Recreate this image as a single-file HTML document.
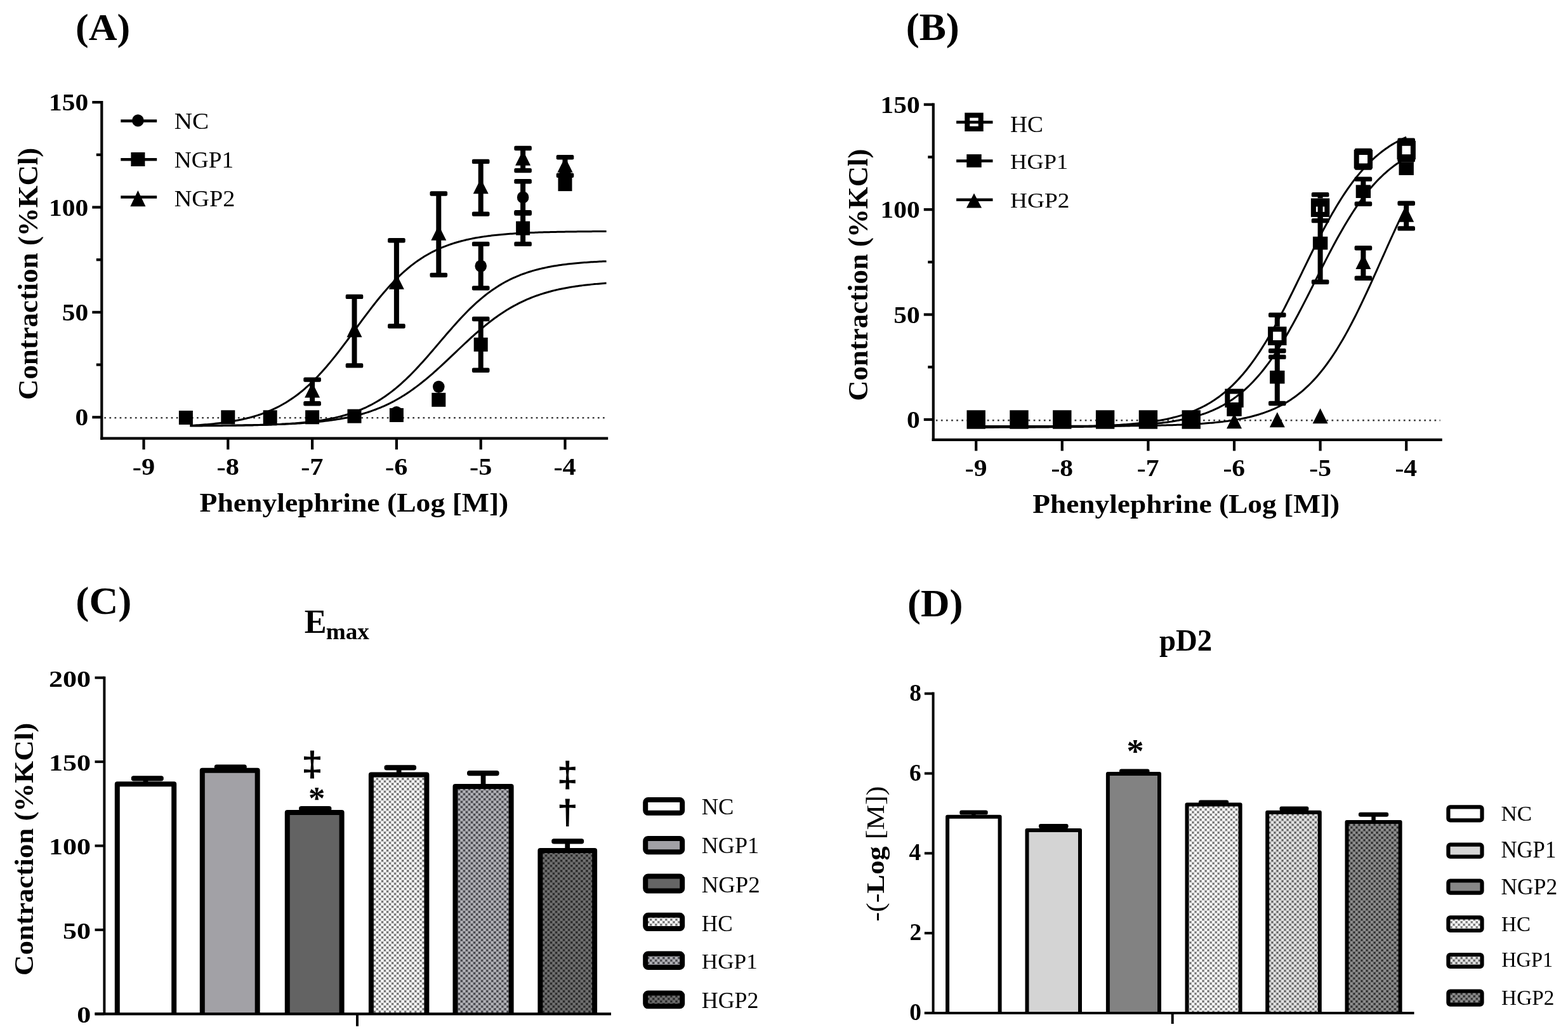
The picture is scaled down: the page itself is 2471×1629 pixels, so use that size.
<!DOCTYPE html><html><head><meta charset="utf-8"><style>html,body{margin:0;padding:0;background:#fff;overflow:hidden}svg{display:block}text{font-family:'Liberation Serif','Times New Roman',serif;fill:#000}</style></head><body>
<svg xmlns="http://www.w3.org/2000/svg" width="2471" height="1629" viewBox="0 0 2471 1629">
<defs><pattern id="pHC_C" width="8.06" height="8.06" patternUnits="userSpaceOnUse"><rect width="8.06" height="8.06" fill="#fff"/><rect x="4.03" y="0" width="4.03" height="4.03" fill="#a5a5a5"/><rect x="0" y="4.03" width="4.03" height="4.03" fill="#a5a5a5"/><rect x="5.03" y="1.0" width="2.0" height="2.0" fill="#505050"/><rect x="1.0" y="5.03" width="2.0" height="2.0" fill="#505050"/></pattern><pattern id="pHGP1_C" width="8.06" height="8.06" patternUnits="userSpaceOnUse"><rect width="8.06" height="8.06" fill="#b5b5ba"/><rect x="4.03" y="0" width="4.03" height="4.03" fill="#6a6a70"/><rect x="0" y="4.03" width="4.03" height="4.03" fill="#6a6a70"/><rect x="5.03" y="1.0" width="2.0" height="2.0" fill="#303035"/><rect x="1.0" y="5.03" width="2.0" height="2.0" fill="#303035"/></pattern><pattern id="pHGP2_C" width="8.06" height="8.06" patternUnits="userSpaceOnUse"><rect width="8.06" height="8.06" fill="#727272"/><rect x="4.03" y="0" width="4.03" height="4.03" fill="#444"/><rect x="0" y="4.03" width="4.03" height="4.03" fill="#444"/><rect x="5.03" y="1.0" width="2.0" height="2.0" fill="#181818"/><rect x="1.0" y="5.03" width="2.0" height="2.0" fill="#181818"/></pattern><pattern id="pHC_D" width="8.06" height="8.06" patternUnits="userSpaceOnUse"><rect width="8.06" height="8.06" fill="#fff"/><rect x="4.03" y="0" width="4.03" height="4.03" fill="#ababab"/><rect x="0" y="4.03" width="4.03" height="4.03" fill="#ababab"/><rect x="5.03" y="1.0" width="2.0" height="2.0" fill="#555"/><rect x="1.0" y="5.03" width="2.0" height="2.0" fill="#555"/></pattern><pattern id="pHGP1_D" width="8.06" height="8.06" patternUnits="userSpaceOnUse"><rect width="8.06" height="8.06" fill="#e6e6e6"/><rect x="4.03" y="0" width="4.03" height="4.03" fill="#999"/><rect x="0" y="4.03" width="4.03" height="4.03" fill="#999"/><rect x="5.03" y="1.0" width="2.0" height="2.0" fill="#444"/><rect x="1.0" y="5.03" width="2.0" height="2.0" fill="#444"/></pattern><pattern id="pHGP2_D" width="8.06" height="8.06" patternUnits="userSpaceOnUse"><rect width="8.06" height="8.06" fill="#909090"/><rect x="4.03" y="0" width="4.03" height="4.03" fill="#555"/><rect x="0" y="4.03" width="4.03" height="4.03" fill="#555"/><rect x="5.03" y="1.0" width="2.0" height="2.0" fill="#1c1c1c"/><rect x="1.0" y="5.03" width="2.0" height="2.0" fill="#1c1c1c"/></pattern></defs>
<rect width="2471" height="1629" fill="#fff"/>
<line x1="164.3" y1="658.30" x2="955.2" y2="658.30" stroke="#3a3a3a" stroke-width="2.5" stroke-dasharray="2.7 5.4"/>
<polyline points="299.54,670.98 302.20,670.97 304.85,670.96 307.51,670.94 310.16,670.93 312.82,670.92 315.48,670.90 318.13,670.89 320.79,670.87 323.44,670.86 326.10,670.84 328.76,670.82 331.41,670.80 334.07,670.78 336.72,670.76 339.38,670.74 342.04,670.72 344.69,670.69 347.35,670.67 350.00,670.64 352.66,670.62 355.32,670.59 357.97,670.56 360.63,670.52 363.28,670.49 365.94,670.46 368.60,670.42 371.25,670.38 373.91,670.34 376.56,670.30 379.22,670.25 381.88,670.21 384.53,670.16 387.19,670.11 389.84,670.06 392.50,670.00 395.16,669.94 397.81,669.88 400.47,669.81 403.12,669.75 405.78,669.68 408.44,669.60 411.09,669.52 413.75,669.44 416.40,669.36 419.06,669.27 421.72,669.17 424.37,669.07 427.03,668.97 429.68,668.86 432.34,668.75 435.00,668.63 437.65,668.51 440.31,668.38 442.96,668.24 445.62,668.10 448.28,667.95 450.93,667.79 453.59,667.62 456.24,667.45 458.90,667.27 461.56,667.08 464.21,666.88 466.87,666.68 469.52,666.46 472.18,666.23 474.84,665.99 477.49,665.74 480.15,665.48 482.80,665.21 485.46,664.92 488.12,664.62 490.77,664.31 493.43,663.98 496.08,663.64 498.74,663.28 501.40,662.91 504.05,662.52 506.71,662.11 509.36,661.68 512.02,661.23 514.68,660.77 517.33,660.28 519.99,659.77 522.64,659.23 525.30,658.68 527.96,658.10 530.61,657.49 533.27,656.86 535.92,656.20 538.58,655.51 541.24,654.79 543.89,654.04 546.55,653.26 549.20,652.45 551.86,651.60 554.52,650.72 557.17,649.80 559.83,648.84 562.48,647.85 565.14,646.81 567.80,645.74 570.45,644.62 573.11,643.46 575.76,642.26 578.42,641.01 581.08,639.71 583.73,638.37 586.39,636.97 589.04,635.53 591.70,634.04 594.36,632.49 597.01,630.89 599.67,629.24 602.32,627.53 604.98,625.77 607.64,623.95 610.29,622.08 612.95,620.15 615.60,618.16 618.26,616.12 620.92,614.02 623.57,611.86 626.23,609.64 628.88,607.37 631.54,605.04 634.20,602.66 636.85,600.22 639.51,597.72 642.16,595.18 644.82,592.58 647.48,589.94 650.13,587.24 652.79,584.50 655.44,581.71 658.10,578.89 660.76,576.02 663.41,573.11 666.07,570.17 668.72,567.20 671.38,564.20 674.04,561.17 676.69,558.12 679.35,555.05 682.00,551.96 684.66,548.86 687.32,545.75 689.97,542.63 692.63,539.51 695.28,536.39 697.94,533.28 700.60,530.17 703.25,527.08 705.91,524.00 708.56,520.93 711.22,517.89 713.88,514.88 716.53,511.89 719.19,508.93 721.84,506.01 724.50,503.12 727.16,500.27 729.81,497.47 732.47,494.70 735.12,491.98 737.78,489.31 740.44,486.69 743.09,484.12 745.75,481.60 748.40,479.13 751.06,476.72 753.72,474.36 756.37,472.06 759.03,469.82 761.68,467.63 764.34,465.50 767.00,463.42 769.65,461.41 772.31,459.45 774.96,457.55 777.62,455.70 780.28,453.91 782.93,452.17 785.59,450.49 788.24,448.87 790.90,447.30 793.56,445.78 796.21,444.31 798.87,442.89 801.52,441.52 804.18,440.20 806.84,438.92 809.49,437.70 812.15,436.51 814.80,435.37 817.46,434.28 820.12,433.22 822.77,432.21 825.43,431.23 828.08,430.30 830.74,429.40 833.40,428.53 836.05,427.70 838.71,426.90 841.36,426.14 844.02,425.41 846.68,424.70 849.33,424.03 851.99,423.38 854.64,422.76 857.30,422.17 859.96,421.60 862.61,421.05 865.27,420.53 867.92,420.03 870.58,419.55 873.24,419.10 875.89,418.66 878.55,418.24 881.20,417.84 883.86,417.46 886.52,417.09 889.17,416.74 891.83,416.40 894.48,416.08 897.14,415.78 899.80,415.49 902.45,415.21 905.11,414.94 907.76,414.68 910.42,414.44 913.08,414.21 915.73,413.99 918.39,413.77 921.04,413.57 923.70,413.38 926.36,413.19 929.01,413.01 931.67,412.85 934.32,412.68 936.98,412.53 939.64,412.38 942.29,412.24 944.95,412.11 947.60,411.98 950.26,411.86 952.92,411.75 955.57,411.63" fill="none" stroke="#000" stroke-width="3.0" stroke-linejoin="round"/>
<polyline points="299.54,670.57 302.20,670.56 304.85,670.55 307.51,670.54 310.16,670.52 312.82,670.51 315.48,670.50 318.13,670.49 320.79,670.47 323.44,670.46 326.10,670.44 328.76,670.43 331.41,670.41 334.07,670.39 336.72,670.38 339.38,670.36 342.04,670.34 344.69,670.32 347.35,670.30 350.00,670.27 352.66,670.25 355.32,670.23 357.97,670.20 360.63,670.17 363.28,670.15 365.94,670.12 368.60,670.09 371.25,670.05 373.91,670.02 376.56,669.99 379.22,669.95 381.88,669.91 384.53,669.87 387.19,669.83 389.84,669.79 392.50,669.74 395.16,669.70 397.81,669.65 400.47,669.60 403.12,669.54 405.78,669.49 408.44,669.43 411.09,669.37 413.75,669.30 416.40,669.24 419.06,669.17 421.72,669.10 424.37,669.02 427.03,668.94 429.68,668.86 432.34,668.77 435.00,668.68 437.65,668.59 440.31,668.49 442.96,668.39 445.62,668.28 448.28,668.17 450.93,668.05 453.59,667.93 456.24,667.80 458.90,667.67 461.56,667.53 464.21,667.38 466.87,667.23 469.52,667.07 472.18,666.91 474.84,666.74 477.49,666.56 480.15,666.37 482.80,666.17 485.46,665.97 488.12,665.76 490.77,665.53 493.43,665.30 496.08,665.06 498.74,664.81 501.40,664.55 504.05,664.27 506.71,663.99 509.36,663.69 512.02,663.38 514.68,663.06 517.33,662.72 519.99,662.37 522.64,662.01 525.30,661.62 527.96,661.23 530.61,660.82 533.27,660.39 535.92,659.94 538.58,659.47 541.24,658.99 543.89,658.49 546.55,657.96 549.20,657.42 551.86,656.85 554.52,656.26 557.17,655.65 559.83,655.01 562.48,654.35 565.14,653.67 567.80,652.95 570.45,652.21 573.11,651.45 575.76,650.65 578.42,649.83 581.08,648.97 583.73,648.08 586.39,647.16 589.04,646.21 591.70,645.23 594.36,644.21 597.01,643.15 599.67,642.06 602.32,640.94 604.98,639.77 607.64,638.57 610.29,637.33 612.95,636.05 615.60,634.73 618.26,633.37 620.92,631.96 623.57,630.52 626.23,629.04 628.88,627.51 631.54,625.94 634.20,624.33 636.85,622.67 639.51,620.97 642.16,619.23 644.82,617.45 647.48,615.62 650.13,613.75 652.79,611.84 655.44,609.89 658.10,607.90 660.76,605.86 663.41,603.79 666.07,601.68 668.72,599.53 671.38,597.35 674.04,595.13 676.69,592.88 679.35,590.60 682.00,588.28 684.66,585.94 687.32,583.57 689.97,581.18 692.63,578.76 695.28,576.32 697.94,573.86 700.60,571.39 703.25,568.90 705.91,566.40 708.56,563.89 711.22,561.37 713.88,558.85 716.53,556.33 719.19,553.80 721.84,551.28 724.50,548.76 727.16,546.25 729.81,543.75 732.47,541.26 735.12,538.79 737.78,536.33 740.44,533.89 743.09,531.48 745.75,529.08 748.40,526.71 751.06,524.37 753.72,522.06 756.37,519.77 759.03,517.52 761.68,515.31 764.34,513.12 767.00,510.98 769.65,508.87 772.31,506.79 774.96,504.76 777.62,502.77 780.28,500.82 782.93,498.91 785.59,497.04 788.24,495.21 790.90,493.43 793.56,491.69 796.21,489.99 798.87,488.34 801.52,486.72 804.18,485.15 806.84,483.63 809.49,482.14 812.15,480.70 814.80,479.30 817.46,477.94 820.12,476.62 822.77,475.34 825.43,474.10 828.08,472.89 830.74,471.73 833.40,470.60 836.05,469.51 838.71,468.46 841.36,467.44 844.02,466.45 846.68,465.50 849.33,464.59 851.99,463.70 854.64,462.84 857.30,462.02 859.96,461.22 862.61,460.46 865.27,459.72 867.92,459.00 870.58,458.32 873.24,457.66 875.89,457.02 878.55,456.41 881.20,455.82 883.86,455.26 886.52,454.71 889.17,454.19 891.83,453.68 894.48,453.20 897.14,452.73 899.80,452.29 902.45,451.86 905.11,451.44 907.76,451.05 910.42,450.67 913.08,450.30 915.73,449.95 918.39,449.62 921.04,449.29 923.70,448.98 926.36,448.69 929.01,448.40 931.67,448.13 934.32,447.87 936.98,447.61 939.64,447.37 942.29,447.14 944.95,446.92 947.60,446.71 950.26,446.50 952.92,446.31 955.57,446.12" fill="none" stroke="#000" stroke-width="3.0" stroke-linejoin="round"/>
<polyline points="299.54,670.47 302.20,670.32 304.85,670.17 307.51,670.01 310.16,669.83 312.82,669.66 315.48,669.47 318.13,669.27 320.79,669.07 323.44,668.85 326.10,668.63 328.76,668.39 331.41,668.15 334.07,667.89 336.72,667.62 339.38,667.34 342.04,667.05 344.69,666.74 347.35,666.42 350.00,666.09 352.66,665.73 355.32,665.37 357.97,664.98 360.63,664.58 363.28,664.16 365.94,663.73 368.60,663.27 371.25,662.79 373.91,662.29 376.56,661.77 379.22,661.23 381.88,660.66 384.53,660.07 387.19,659.45 389.84,658.81 392.50,658.13 395.16,657.43 397.81,656.70 400.47,655.94 403.12,655.15 405.78,654.32 408.44,653.45 411.09,652.56 413.75,651.62 416.40,650.65 419.06,649.64 421.72,648.58 424.37,647.49 427.03,646.35 429.68,645.16 432.34,643.93 435.00,642.66 437.65,641.33 440.31,639.96 442.96,638.53 445.62,637.05 448.28,635.52 450.93,633.93 453.59,632.29 456.24,630.59 458.90,628.83 461.56,627.01 464.21,625.14 466.87,623.20 469.52,621.19 472.18,619.13 474.84,617.00 477.49,614.81 480.15,612.56 482.80,610.24 485.46,607.85 488.12,605.40 490.77,602.89 493.43,600.31 496.08,597.66 498.74,594.96 501.40,592.19 504.05,589.35 506.71,586.46 509.36,583.51 512.02,580.50 514.68,577.43 517.33,574.31 519.99,571.14 522.64,567.91 525.30,564.64 527.96,561.32 530.61,557.96 533.27,554.56 535.92,551.13 538.58,547.66 541.24,544.16 543.89,540.63 546.55,537.08 549.20,533.51 551.86,529.92 554.52,526.32 557.17,522.72 559.83,519.11 562.48,515.50 565.14,511.89 567.80,508.29 570.45,504.70 573.11,501.13 575.76,497.58 578.42,494.05 581.08,490.54 583.73,487.07 586.39,483.63 589.04,480.22 591.70,476.86 594.36,473.54 597.01,470.26 599.67,467.03 602.32,463.85 604.98,460.72 607.64,457.65 610.29,454.63 612.95,451.68 615.60,448.78 618.26,445.94 620.92,443.16 623.57,440.45 626.23,437.80 628.88,435.21 631.54,432.69 634.20,430.23 636.85,427.84 639.51,425.51 642.16,423.25 644.82,421.05 647.48,418.92 650.13,416.85 652.79,414.84 655.44,412.89 658.10,411.01 660.76,409.18 663.41,407.42 666.07,405.71 668.72,404.06 671.38,402.47 674.04,400.93 676.69,399.45 679.35,398.01 682.00,396.63 684.66,395.30 687.32,394.02 689.97,392.79 692.63,391.60 695.28,390.45 697.94,389.35 700.60,388.29 703.25,387.28 705.91,386.30 708.56,385.36 711.22,384.46 713.88,383.59 716.53,382.76 719.19,381.96 721.84,381.20 724.50,380.46 727.16,379.76 729.81,379.08 732.47,378.43 735.12,377.81 737.78,377.22 740.44,376.65 743.09,376.10 745.75,375.58 748.40,375.08 751.06,374.60 753.72,374.14 756.37,373.70 759.03,373.28 761.68,372.88 764.34,372.49 767.00,372.12 769.65,371.77 772.31,371.43 774.96,371.11 777.62,370.80 780.28,370.51 782.93,370.22 785.59,369.95 788.24,369.70 790.90,369.45 793.56,369.21 796.21,368.99 798.87,368.77 801.52,368.57 804.18,368.37 806.84,368.18 809.49,368.00 812.15,367.83 814.80,367.67 817.46,367.51 820.12,367.36 822.77,367.22 825.43,367.08 828.08,366.95 830.74,366.82 833.40,366.71 836.05,366.59 838.71,366.48 841.36,366.38 844.02,366.28 846.68,366.19 849.33,366.10 851.99,366.01 854.64,365.93 857.30,365.85 859.96,365.77 862.61,365.70 865.27,365.63 867.92,365.57 870.58,365.51 873.24,365.45 875.89,365.39 878.55,365.33 881.20,365.28 883.86,365.23 886.52,365.19 889.17,365.14 891.83,365.10 894.48,365.06 897.14,365.02 899.80,364.98 902.45,364.94 905.11,364.91 907.76,364.88 910.42,364.85 913.08,364.82 915.73,364.79 918.39,364.76 921.04,364.74 923.70,364.71 926.36,364.69 929.01,364.66 931.67,364.64 934.32,364.62 936.98,364.60 939.64,364.58 942.29,364.57 944.95,364.55 947.60,364.53 950.26,364.52 952.92,364.50 955.57,364.49" fill="none" stroke="#000" stroke-width="3.0" stroke-linejoin="round"/>
<ellipse cx="624.90" cy="649.69" rx="9.3" ry="9.7" fill="#000"/>
<ellipse cx="691.30" cy="609.33" rx="9.3" ry="9.7" fill="#000"/>
<rect x="753.70" y="384.39" width="8.00" height="69.47" rx="0" fill="#000" />
<rect x="743.90" y="380.69" width="27.60" height="7.40" rx="2.2" fill="#000" />
<rect x="743.90" y="450.16" width="27.60" height="7.40" rx="2.2" fill="#000" />
<ellipse cx="757.70" cy="419.12" rx="9.3" ry="9.7" fill="#000"/>
<rect x="820.10" y="285.81" width="8.00" height="50.28" rx="0" fill="#000" />
<rect x="810.30" y="282.11" width="27.60" height="7.40" rx="2.2" fill="#000" />
<rect x="810.30" y="332.39" width="27.60" height="7.40" rx="2.2" fill="#000" />
<ellipse cx="824.10" cy="310.95" rx="9.3" ry="9.7" fill="#000"/>
<ellipse cx="890.50" cy="273.57" rx="9.3" ry="9.7" fill="#000"/>
<rect x="281.90" y="646.96" width="22.00" height="22.00" rx="0" fill="#000" />
<rect x="348.30" y="646.30" width="22.00" height="22.00" rx="0" fill="#000" />
<rect x="414.70" y="646.30" width="22.00" height="22.00" rx="0" fill="#000" />
<rect x="481.10" y="646.30" width="22.00" height="22.00" rx="0" fill="#000" />
<rect x="547.50" y="644.65" width="22.00" height="22.00" rx="0" fill="#000" />
<rect x="613.90" y="642.99" width="22.00" height="22.00" rx="0" fill="#000" />
<rect x="680.30" y="618.84" width="22.00" height="22.00" rx="0" fill="#000" />
<rect x="753.70" y="502.49" width="8.00" height="80.72" rx="0" fill="#000" />
<rect x="743.90" y="498.79" width="27.60" height="7.40" rx="2.2" fill="#000" />
<rect x="743.90" y="579.50" width="27.60" height="7.40" rx="2.2" fill="#000" />
<rect x="746.70" y="531.84" width="22.00" height="22.00" rx="0" fill="#000" />
<rect x="820.10" y="334.77" width="8.00" height="49.62" rx="0" fill="#000" />
<rect x="810.30" y="331.07" width="27.60" height="7.40" rx="2.2" fill="#000" />
<rect x="810.30" y="380.69" width="27.60" height="7.40" rx="2.2" fill="#000" />
<rect x="813.10" y="348.58" width="22.00" height="22.00" rx="0" fill="#000" />
<rect x="879.50" y="279.11" width="22.00" height="22.00" rx="0" fill="#000" />
<rect x="488.10" y="598.09" width="8.00" height="37.71" rx="0" fill="#000" />
<rect x="478.30" y="594.39" width="27.60" height="7.40" rx="2.2" fill="#000" />
<rect x="478.30" y="632.10" width="27.60" height="7.40" rx="2.2" fill="#000" />
<path d="M492.10,602.54 L504.10,626.54 L480.10,626.54 Z" fill="#000"/>
<rect x="554.50" y="467.42" width="8.00" height="108.50" rx="0" fill="#000" />
<rect x="544.70" y="463.72" width="27.60" height="7.40" rx="2.2" fill="#000" />
<rect x="544.70" y="572.22" width="27.60" height="7.40" rx="2.2" fill="#000" />
<path d="M558.50,507.27 L570.50,531.27 L546.50,531.27 Z" fill="#000"/>
<rect x="620.90" y="378.77" width="8.00" height="134.97" rx="0" fill="#000" />
<rect x="611.10" y="375.07" width="27.60" height="7.40" rx="2.2" fill="#000" />
<rect x="611.10" y="510.03" width="27.60" height="7.40" rx="2.2" fill="#000" />
<path d="M624.90,431.85 L636.90,455.85 L612.90,455.85 Z" fill="#000"/>
<rect x="687.30" y="305.00" width="8.00" height="128.35" rx="0" fill="#000" />
<rect x="677.50" y="301.30" width="27.60" height="7.40" rx="2.2" fill="#000" />
<rect x="677.50" y="429.65" width="27.60" height="7.40" rx="2.2" fill="#000" />
<path d="M691.30,354.77 L703.30,378.77 L679.30,378.77 Z" fill="#000"/>
<rect x="753.70" y="254.39" width="8.00" height="82.70" rx="0" fill="#000" />
<rect x="743.90" y="250.69" width="27.60" height="7.40" rx="2.2" fill="#000" />
<rect x="743.90" y="333.39" width="27.60" height="7.40" rx="2.2" fill="#000" />
<path d="M757.70,281.34 L769.70,305.34 L745.70,305.34 Z" fill="#000"/>
<rect x="820.10" y="233.55" width="8.00" height="35.06" rx="0" fill="#000" />
<rect x="810.30" y="229.85" width="27.60" height="7.40" rx="2.2" fill="#000" />
<rect x="810.30" y="264.91" width="27.60" height="7.40" rx="2.2" fill="#000" />
<path d="M824.10,236.68 L836.10,260.68 L812.10,260.68 Z" fill="#000"/>
<rect x="886.50" y="247.77" width="8.00" height="28.45" rx="0" fill="#000" />
<rect x="876.70" y="244.07" width="27.60" height="7.40" rx="2.2" fill="#000" />
<rect x="876.70" y="272.52" width="27.60" height="7.40" rx="2.2" fill="#000" />
<path d="M890.50,247.59 L902.50,271.59 L878.50,271.59 Z" fill="#000"/>
<line x1="160.30" y1="158.90" x2="160.30" y2="692.80" stroke="#000" stroke-width="4.2" stroke-linecap="butt" />
<line x1="158.20" y1="690.70" x2="958.20" y2="690.70" stroke="#000" stroke-width="4.2" stroke-linecap="butt" />
<line x1="160.30" y1="657.30" x2="145.30" y2="657.30" stroke="#000" stroke-width="4.2" stroke-linecap="butt" />
<text transform="translate(118.53,670.40) scale(1.1200,1)" font-size="37.00"><tspan font-family="'Liberation Serif','Times New Roman',serif" font-weight="bold">0</tspan></text>
<line x1="160.30" y1="491.90" x2="145.30" y2="491.90" stroke="#000" stroke-width="4.2" stroke-linecap="butt" />
<text transform="translate(97.81,505.00) scale(1.1200,1)" font-size="37.00"><tspan font-family="'Liberation Serif','Times New Roman',serif" font-weight="bold">50</tspan></text>
<line x1="160.30" y1="326.50" x2="145.30" y2="326.50" stroke="#000" stroke-width="4.2" stroke-linecap="butt" />
<text transform="translate(77.09,339.60) scale(1.1200,1)" font-size="37.00"><tspan font-family="'Liberation Serif','Times New Roman',serif" font-weight="bold">100</tspan></text>
<line x1="160.30" y1="161.10" x2="145.30" y2="161.10" stroke="#000" stroke-width="4.2" stroke-linecap="butt" />
<text transform="translate(77.09,174.20) scale(1.1200,1)" font-size="37.00"><tspan font-family="'Liberation Serif','Times New Roman',serif" font-weight="bold">150</tspan></text>
<line x1="160.30" y1="574.60" x2="151.80" y2="574.60" stroke="#000" stroke-width="4.2" stroke-linecap="butt" />
<line x1="160.30" y1="409.20" x2="151.80" y2="409.20" stroke="#000" stroke-width="4.2" stroke-linecap="butt" />
<line x1="160.30" y1="243.80" x2="151.80" y2="243.80" stroke="#000" stroke-width="4.2" stroke-linecap="butt" />
<line x1="226.50" y1="690.70" x2="226.50" y2="708.20" stroke="#000" stroke-width="4.2" stroke-linecap="butt" />
<text transform="translate(208.82,747.60) scale(1.1000,1)" font-size="38.50"><tspan font-family="'Liberation Serif','Times New Roman',serif" font-weight="bold">-9</tspan></text>
<line x1="359.30" y1="690.70" x2="359.30" y2="708.20" stroke="#000" stroke-width="4.2" stroke-linecap="butt" />
<text transform="translate(341.57,747.60) scale(1.1000,1)" font-size="38.50"><tspan font-family="'Liberation Serif','Times New Roman',serif" font-weight="bold">-8</tspan></text>
<line x1="492.10" y1="690.70" x2="492.10" y2="708.20" stroke="#000" stroke-width="4.2" stroke-linecap="butt" />
<text transform="translate(474.21,747.60) scale(1.1000,1)" font-size="38.50"><tspan font-family="'Liberation Serif','Times New Roman',serif" font-weight="bold">-7</tspan></text>
<line x1="624.90" y1="690.70" x2="624.90" y2="708.20" stroke="#000" stroke-width="4.2" stroke-linecap="butt" />
<text transform="translate(607.11,747.60) scale(1.1000,1)" font-size="38.50"><tspan font-family="'Liberation Serif','Times New Roman',serif" font-weight="bold">-6</tspan></text>
<line x1="757.70" y1="690.70" x2="757.70" y2="708.20" stroke="#000" stroke-width="4.2" stroke-linecap="butt" />
<text transform="translate(740.07,747.60) scale(1.1000,1)" font-size="38.50"><tspan font-family="'Liberation Serif','Times New Roman',serif" font-weight="bold">-5</tspan></text>
<line x1="890.50" y1="690.70" x2="890.50" y2="708.20" stroke="#000" stroke-width="4.2" stroke-linecap="butt" />
<text transform="translate(872.45,747.60) scale(1.1000,1)" font-size="38.50"><tspan font-family="'Liberation Serif','Times New Roman',serif" font-weight="bold">-4</tspan></text>
<text transform="translate(314.50,806.25) scale(1.0630,1)" font-size="42.95" ><tspan font-family="'Liberation Serif','Times New Roman',serif" font-weight="bold">Phenylephrine (Log [M])</tspan></text>
<text transform="translate(58.97,629.94) rotate(-90) scale(1.0330,1)" font-size="43.42"><tspan font-family="'Liberation Serif','Times New Roman',serif" font-weight="bold">Contraction (%KCl)</tspan></text>
<text transform="translate(119.11,62.84) scale(1.0337,1)" font-size="60.06" ><tspan font-family="'Liberation Serif','Times New Roman',serif" font-weight="bold">(A)</tspan></text>
<line x1="190.30" y1="190.40" x2="247.20" y2="190.40" stroke="#000" stroke-width="4.5" stroke-linecap="butt" />
<ellipse cx="217.40" cy="189.90" rx="9.3" ry="9.7" fill="#000"/>
<text transform="translate(274.73,203.24) scale(1.0927,1)" font-size="35.84" ><tspan font-family="'Liberation Serif','Times New Roman',serif" font-weight="normal">NC</tspan></text>
<line x1="190.30" y1="251.30" x2="247.20" y2="251.30" stroke="#000" stroke-width="4.5" stroke-linecap="butt" />
<rect x="206.40" y="240.00" width="22.00" height="22.00" rx="0" fill="#000" />
<text transform="translate(274.78,263.55) scale(1.0699,1)" font-size="34.94" ><tspan font-family="'Liberation Serif','Times New Roman',serif" font-weight="normal">NGP1</tspan></text>
<line x1="190.30" y1="310.40" x2="247.20" y2="310.40" stroke="#000" stroke-width="4.5" stroke-linecap="butt" />
<path d="M217.40,300.10 L229.45,325.30 L205.35,325.30 Z" fill="#000"/>
<text transform="translate(274.75,324.95) scale(1.0949,1)" font-size="34.94" ><tspan font-family="'Liberation Serif','Times New Roman',serif" font-weight="normal">NGP2</tspan></text>
<line x1="1474.8" y1="662.20" x2="2269.7" y2="662.20" stroke="#3a3a3a" stroke-width="2.5" stroke-dasharray="2.7 5.4"/>
<polyline points="1538.20,672.94 1540.91,672.94 1543.62,672.93 1546.34,672.93 1549.05,672.93 1551.76,672.92 1554.47,672.92 1557.18,672.91 1559.90,672.91 1562.61,672.90 1565.32,672.89 1568.03,672.89 1570.74,672.88 1573.46,672.88 1576.17,672.87 1578.88,672.86 1581.59,672.85 1584.30,672.85 1587.02,672.84 1589.73,672.83 1592.44,672.82 1595.15,672.81 1597.86,672.80 1600.58,672.79 1603.29,672.78 1606.00,672.77 1608.71,672.76 1611.42,672.74 1614.14,672.73 1616.85,672.72 1619.56,672.70 1622.27,672.69 1624.98,672.67 1627.70,672.66 1630.41,672.64 1633.12,672.62 1635.83,672.60 1638.54,672.58 1641.26,672.56 1643.97,672.54 1646.68,672.52 1649.39,672.49 1652.10,672.47 1654.82,672.44 1657.53,672.42 1660.24,672.39 1662.95,672.36 1665.66,672.33 1668.38,672.29 1671.09,672.26 1673.80,672.22 1676.51,672.19 1679.22,672.15 1681.94,672.10 1684.65,672.06 1687.36,672.02 1690.07,671.97 1692.78,671.92 1695.50,671.87 1698.21,671.81 1700.92,671.76 1703.63,671.70 1706.34,671.64 1709.06,671.57 1711.77,671.50 1714.48,671.43 1717.19,671.36 1719.90,671.28 1722.62,671.20 1725.33,671.11 1728.04,671.02 1730.75,670.93 1733.46,670.83 1736.18,670.73 1738.89,670.62 1741.60,670.51 1744.31,670.39 1747.02,670.26 1749.74,670.14 1752.45,670.00 1755.16,669.86 1757.87,669.71 1760.58,669.56 1763.30,669.39 1766.01,669.22 1768.72,669.05 1771.43,668.86 1774.14,668.67 1776.86,668.46 1779.57,668.25 1782.28,668.03 1784.99,667.80 1787.70,667.55 1790.42,667.30 1793.13,667.03 1795.84,666.75 1798.55,666.46 1801.26,666.16 1803.98,665.84 1806.69,665.50 1809.40,665.16 1812.11,664.79 1814.82,664.41 1817.54,664.01 1820.25,663.60 1822.96,663.16 1825.67,662.71 1828.38,662.23 1831.10,661.73 1833.81,661.22 1836.52,660.67 1839.23,660.11 1841.94,659.52 1844.66,658.90 1847.37,658.25 1850.08,657.58 1852.79,656.88 1855.50,656.14 1858.22,655.38 1860.93,654.58 1863.64,653.74 1866.35,652.87 1869.06,651.96 1871.78,651.02 1874.49,650.03 1877.20,649.00 1879.91,647.93 1882.62,646.81 1885.34,645.64 1888.05,644.43 1890.76,643.16 1893.47,641.85 1896.18,640.48 1898.90,639.05 1901.61,637.57 1904.32,636.02 1907.03,634.42 1909.74,632.75 1912.46,631.02 1915.17,629.22 1917.88,627.35 1920.59,625.41 1923.30,623.40 1926.02,621.31 1928.73,619.14 1931.44,616.90 1934.15,614.57 1936.86,612.16 1939.58,609.67 1942.29,607.09 1945.00,604.43 1947.71,601.67 1950.42,598.82 1953.14,595.88 1955.85,592.85 1958.56,589.72 1961.27,586.50 1963.98,583.18 1966.70,579.76 1969.41,576.24 1972.12,572.63 1974.83,568.91 1977.54,565.10 1980.26,561.19 1982.97,557.18 1985.68,553.07 1988.39,548.87 1991.10,544.57 1993.82,540.17 1996.53,535.69 1999.24,531.11 2001.95,526.45 2004.66,521.70 2007.38,516.86 2010.09,511.95 2012.80,506.96 2015.51,501.90 2018.22,496.77 2020.94,491.57 2023.65,486.32 2026.36,481.01 2029.07,475.64 2031.78,470.23 2034.50,464.78 2037.21,459.30 2039.92,453.78 2042.63,448.24 2045.34,442.68 2048.06,437.11 2050.77,431.54 2053.48,425.96 2056.19,420.38 2058.90,414.82 2061.62,409.27 2064.33,403.75 2067.04,398.25 2069.75,392.79 2072.46,387.37 2075.18,381.99 2077.89,376.66 2080.60,371.39 2083.31,366.17 2086.02,361.02 2088.74,355.94 2091.45,350.92 2094.16,345.99 2096.87,341.13 2099.58,336.35 2102.30,331.66 2105.01,327.05 2107.72,322.54 2110.43,318.12 2113.14,313.79 2115.86,309.55 2118.57,305.41 2121.28,301.37 2123.99,297.43 2126.70,293.58 2129.42,289.84 2132.13,286.19 2134.84,282.64 2137.55,279.19 2140.26,275.84 2142.98,272.59 2145.69,269.43 2148.40,266.36 2151.11,263.39 2153.82,260.52 2156.54,257.73 2159.25,255.04 2161.96,252.43 2164.67,249.91 2167.38,247.48 2170.10,245.12 2172.81,242.85 2175.52,240.66 2178.23,238.55 2180.94,236.51 2183.66,234.55 2186.37,232.66 2189.08,230.83 2191.79,229.08 2194.50,227.39 2197.22,225.77 2199.93,224.21 2202.64,222.70 2205.35,221.26 2208.06,219.87 2210.78,218.54 2213.49,217.26 2216.20,216.03" fill="none" stroke="#000" stroke-width="3.0" stroke-linejoin="round"/>
<polyline points="1538.20,673.16 1540.91,673.15 1543.62,673.15 1546.34,673.15 1549.05,673.15 1551.76,673.14 1554.47,673.14 1557.18,673.14 1559.90,673.13 1562.61,673.13 1565.32,673.13 1568.03,673.12 1570.74,673.12 1573.46,673.12 1576.17,673.11 1578.88,673.11 1581.59,673.11 1584.30,673.10 1587.02,673.10 1589.73,673.09 1592.44,673.09 1595.15,673.08 1597.86,673.07 1600.58,673.07 1603.29,673.06 1606.00,673.05 1608.71,673.05 1611.42,673.04 1614.14,673.03 1616.85,673.02 1619.56,673.02 1622.27,673.01 1624.98,673.00 1627.70,672.99 1630.41,672.98 1633.12,672.97 1635.83,672.96 1638.54,672.95 1641.26,672.93 1643.97,672.92 1646.68,672.91 1649.39,672.89 1652.10,672.88 1654.82,672.86 1657.53,672.85 1660.24,672.83 1662.95,672.81 1665.66,672.79 1668.38,672.77 1671.09,672.75 1673.80,672.73 1676.51,672.71 1679.22,672.69 1681.94,672.66 1684.65,672.63 1687.36,672.61 1690.07,672.58 1692.78,672.55 1695.50,672.52 1698.21,672.49 1700.92,672.45 1703.63,672.42 1706.34,672.38 1709.06,672.34 1711.77,672.30 1714.48,672.25 1717.19,672.21 1719.90,672.16 1722.62,672.11 1725.33,672.06 1728.04,672.00 1730.75,671.95 1733.46,671.89 1736.18,671.82 1738.89,671.76 1741.60,671.69 1744.31,671.62 1747.02,671.54 1749.74,671.46 1752.45,671.38 1755.16,671.29 1757.87,671.20 1760.58,671.11 1763.30,671.00 1766.01,670.90 1768.72,670.79 1771.43,670.68 1774.14,670.55 1776.86,670.43 1779.57,670.30 1782.28,670.16 1784.99,670.01 1787.70,669.86 1790.42,669.70 1793.13,669.54 1795.84,669.36 1798.55,669.18 1801.26,668.99 1803.98,668.79 1806.69,668.58 1809.40,668.36 1812.11,668.13 1814.82,667.89 1817.54,667.64 1820.25,667.37 1822.96,667.10 1825.67,666.81 1828.38,666.51 1831.10,666.19 1833.81,665.86 1836.52,665.51 1839.23,665.15 1841.94,664.77 1844.66,664.37 1847.37,663.96 1850.08,663.53 1852.79,663.07 1855.50,662.60 1858.22,662.10 1860.93,661.58 1863.64,661.04 1866.35,660.47 1869.06,659.88 1871.78,659.26 1874.49,658.61 1877.20,657.93 1879.91,657.23 1882.62,656.49 1885.34,655.72 1888.05,654.91 1890.76,654.07 1893.47,653.19 1896.18,652.28 1898.90,651.32 1901.61,650.32 1904.32,649.28 1907.03,648.20 1909.74,647.07 1912.46,645.89 1915.17,644.66 1917.88,643.38 1920.59,642.04 1923.30,640.65 1926.02,639.21 1928.73,637.70 1931.44,636.14 1934.15,634.51 1936.86,632.82 1939.58,631.06 1942.29,629.23 1945.00,627.33 1947.71,625.36 1950.42,623.31 1953.14,621.19 1955.85,618.99 1958.56,616.70 1961.27,614.34 1963.98,611.89 1966.70,609.36 1969.41,606.74 1972.12,604.03 1974.83,601.23 1977.54,598.34 1980.26,595.36 1982.97,592.28 1985.68,589.11 1988.39,585.84 1991.10,582.48 1993.82,579.02 1996.53,575.46 1999.24,571.80 2001.95,568.05 2004.66,564.20 2007.38,560.26 2010.09,556.22 2012.80,552.08 2015.51,547.86 2018.22,543.54 2020.94,539.13 2023.65,534.64 2026.36,530.06 2029.07,525.40 2031.78,520.66 2034.50,515.85 2037.21,510.96 2039.92,506.01 2042.63,500.99 2045.34,495.92 2048.06,490.78 2050.77,485.60 2053.48,480.38 2056.19,475.11 2058.90,469.81 2061.62,464.49 2064.33,459.13 2067.04,453.77 2069.75,448.39 2072.46,443.00 2075.18,437.61 2077.89,432.24 2080.60,426.87 2083.31,421.52 2086.02,416.20 2088.74,410.90 2091.45,405.64 2094.16,400.42 2096.87,395.24 2099.58,390.12 2102.30,385.05 2105.01,380.04 2107.72,375.09 2110.43,370.22 2113.14,365.41 2115.86,360.68 2118.57,356.03 2121.28,351.47 2123.99,346.98 2126.70,342.59 2129.42,338.28 2132.13,334.06 2134.84,329.94 2137.55,325.91 2140.26,321.98 2142.98,318.14 2145.69,314.40 2148.40,310.76 2151.11,307.21 2153.82,303.76 2156.54,300.41 2159.25,297.15 2161.96,293.99 2164.67,290.93 2167.38,287.95 2170.10,285.07 2172.81,282.29 2175.52,279.59 2178.23,276.98 2180.94,274.46 2183.66,272.02 2186.37,269.66 2189.08,267.39 2191.79,265.20 2194.50,263.09 2197.22,261.05 2199.93,259.09 2202.64,257.20 2205.35,255.38 2208.06,253.62 2210.78,251.94 2213.49,250.32 2216.20,248.76" fill="none" stroke="#000" stroke-width="3.0" stroke-linejoin="round"/>
<polyline points="1538.20,671.46 1540.91,671.46 1543.62,671.46 1546.34,671.46 1549.05,671.46 1551.76,671.46 1554.47,671.46 1557.18,671.46 1559.90,671.46 1562.61,671.46 1565.32,671.46 1568.03,671.46 1570.74,671.46 1573.46,671.46 1576.17,671.46 1578.88,671.45 1581.59,671.45 1584.30,671.45 1587.02,671.45 1589.73,671.45 1592.44,671.45 1595.15,671.45 1597.86,671.45 1600.58,671.45 1603.29,671.44 1606.00,671.44 1608.71,671.44 1611.42,671.44 1614.14,671.44 1616.85,671.44 1619.56,671.44 1622.27,671.43 1624.98,671.43 1627.70,671.43 1630.41,671.43 1633.12,671.43 1635.83,671.42 1638.54,671.42 1641.26,671.42 1643.97,671.42 1646.68,671.41 1649.39,671.41 1652.10,671.41 1654.82,671.40 1657.53,671.40 1660.24,671.40 1662.95,671.39 1665.66,671.39 1668.38,671.39 1671.09,671.38 1673.80,671.38 1676.51,671.37 1679.22,671.37 1681.94,671.36 1684.65,671.36 1687.36,671.35 1690.07,671.35 1692.78,671.34 1695.50,671.34 1698.21,671.33 1700.92,671.32 1703.63,671.32 1706.34,671.31 1709.06,671.30 1711.77,671.29 1714.48,671.28 1717.19,671.27 1719.90,671.27 1722.62,671.26 1725.33,671.24 1728.04,671.23 1730.75,671.22 1733.46,671.21 1736.18,671.20 1738.89,671.19 1741.60,671.17 1744.31,671.16 1747.02,671.14 1749.74,671.13 1752.45,671.11 1755.16,671.09 1757.87,671.07 1760.58,671.06 1763.30,671.04 1766.01,671.02 1768.72,670.99 1771.43,670.97 1774.14,670.95 1776.86,670.92 1779.57,670.90 1782.28,670.87 1784.99,670.84 1787.70,670.81 1790.42,670.78 1793.13,670.74 1795.84,670.71 1798.55,670.67 1801.26,670.64 1803.98,670.60 1806.69,670.55 1809.40,670.51 1812.11,670.47 1814.82,670.42 1817.54,670.37 1820.25,670.31 1822.96,670.26 1825.67,670.20 1828.38,670.14 1831.10,670.08 1833.81,670.01 1836.52,669.94 1839.23,669.87 1841.94,669.79 1844.66,669.72 1847.37,669.63 1850.08,669.54 1852.79,669.45 1855.50,669.36 1858.22,669.26 1860.93,669.15 1863.64,669.04 1866.35,668.93 1869.06,668.81 1871.78,668.68 1874.49,668.55 1877.20,668.41 1879.91,668.26 1882.62,668.11 1885.34,667.95 1888.05,667.79 1890.76,667.61 1893.47,667.43 1896.18,667.24 1898.90,667.04 1901.61,666.83 1904.32,666.61 1907.03,666.38 1909.74,666.14 1912.46,665.89 1915.17,665.63 1917.88,665.36 1920.59,665.07 1923.30,664.77 1926.02,664.45 1928.73,664.12 1931.44,663.78 1934.15,663.42 1936.86,663.04 1939.58,662.65 1942.29,662.23 1945.00,661.80 1947.71,661.35 1950.42,660.88 1953.14,660.39 1955.85,659.87 1958.56,659.33 1961.27,658.77 1963.98,658.18 1966.70,657.56 1969.41,656.92 1972.12,656.24 1974.83,655.54 1977.54,654.81 1980.26,654.04 1982.97,653.24 1985.68,652.40 1988.39,651.53 1991.10,650.62 1993.82,649.67 1996.53,648.68 1999.24,647.64 2001.95,646.56 2004.66,645.43 2007.38,644.26 2010.09,643.03 2012.80,641.76 2015.51,640.43 2018.22,639.04 2020.94,637.60 2023.65,636.10 2026.36,634.53 2029.07,632.90 2031.78,631.21 2034.50,629.45 2037.21,627.61 2039.92,625.71 2042.63,623.73 2045.34,621.67 2048.06,619.54 2050.77,617.32 2053.48,615.03 2056.19,612.64 2058.90,610.17 2061.62,607.61 2064.33,604.96 2067.04,602.21 2069.75,599.37 2072.46,596.43 2075.18,593.39 2077.89,590.25 2080.60,587.01 2083.31,583.67 2086.02,580.22 2088.74,576.66 2091.45,573.00 2094.16,569.23 2096.87,565.36 2099.58,561.37 2102.30,557.28 2105.01,553.07 2107.72,548.76 2110.43,544.34 2113.14,539.82 2115.86,535.18 2118.57,530.45 2121.28,525.61 2123.99,520.67 2126.70,515.64 2129.42,510.51 2132.13,505.28 2134.84,499.97 2137.55,494.57 2140.26,489.09 2142.98,483.53 2145.69,477.90 2148.40,472.21 2151.11,466.45 2153.82,460.63 2156.54,454.75 2159.25,448.84 2161.96,442.88 2164.67,436.88 2167.38,430.86 2170.10,424.82 2172.81,418.76 2175.52,412.69 2178.23,406.62 2180.94,400.55 2183.66,394.50 2186.37,388.46 2189.08,382.44 2191.79,376.45 2194.50,370.50 2197.22,364.59 2199.93,358.73 2202.64,352.93 2205.35,347.18 2208.06,341.50 2210.78,335.88 2213.49,330.34 2216.20,324.88" fill="none" stroke="#000" stroke-width="3.0" stroke-linejoin="round"/>
<path d="M1945.00,651.23 L1957.00,675.23 L1933.00,675.23 Z" fill="#000"/>
<path d="M2012.80,649.25 L2024.80,673.25 L2000.80,673.25 Z" fill="#000"/>
<path d="M2080.60,643.29 L2092.60,667.29 L2068.60,667.29 Z" fill="#000"/>
<rect x="2144.40" y="390.68" width="8.00" height="47.65" rx="0" fill="#000" />
<rect x="2134.60" y="386.98" width="27.60" height="7.40" rx="2.2" fill="#000" />
<rect x="2134.60" y="434.62" width="27.60" height="7.40" rx="2.2" fill="#000" />
<path d="M2148.40,400.10 L2160.40,424.10 L2136.40,424.10 Z" fill="#000"/>
<rect x="2212.20" y="320.20" width="8.00" height="39.70" rx="0" fill="#000" />
<rect x="2202.40" y="316.50" width="27.60" height="7.40" rx="2.2" fill="#000" />
<rect x="2202.40" y="356.21" width="27.60" height="7.40" rx="2.2" fill="#000" />
<path d="M2216.20,325.66 L2228.20,349.66 L2204.20,349.66 Z" fill="#000"/>
<rect x="1527.50" y="650.30" width="21.40" height="21.40" fill="none" stroke="#000" stroke-width="8"/>
<rect x="1595.30" y="650.30" width="21.40" height="21.40" fill="none" stroke="#000" stroke-width="8"/>
<rect x="1663.10" y="650.30" width="21.40" height="21.40" fill="none" stroke="#000" stroke-width="8"/>
<rect x="1730.90" y="650.30" width="21.40" height="21.40" fill="none" stroke="#000" stroke-width="8"/>
<rect x="1798.70" y="650.30" width="21.40" height="21.40" fill="none" stroke="#000" stroke-width="8"/>
<rect x="1866.50" y="650.30" width="21.40" height="21.40" fill="none" stroke="#000" stroke-width="8"/>
<rect x="1934.30" y="616.55" width="21.40" height="21.40" fill="none" stroke="#000" stroke-width="8"/>
<rect x="2008.80" y="496.23" width="8.00" height="18.39" rx="0" fill="#000" />
<rect x="2008.80" y="544.01" width="8.00" height="18.39" rx="0" fill="#000" />
<rect x="1999.00" y="492.53" width="27.60" height="7.40" rx="2.2" fill="#000" />
<rect x="1999.00" y="558.70" width="27.60" height="7.40" rx="2.2" fill="#000" />
<rect x="2002.10" y="518.61" width="21.40" height="21.40" fill="none" stroke="#000" stroke-width="8"/>
<rect x="2076.60" y="306.64" width="8.00" height="5.81" rx="0" fill="#000" />
<rect x="2076.60" y="341.85" width="8.00" height="5.81" rx="0" fill="#000" />
<rect x="2066.80" y="302.94" width="27.60" height="7.40" rx="2.2" fill="#000" />
<rect x="2066.80" y="343.97" width="27.60" height="7.40" rx="2.2" fill="#000" />
<rect x="2069.90" y="316.45" width="21.40" height="21.40" fill="none" stroke="#000" stroke-width="8"/>
<rect x="2134.60" y="233.79" width="27.60" height="7.40" rx="2.2" fill="#000" />
<rect x="2134.60" y="260.26" width="27.60" height="7.40" rx="2.2" fill="#000" />
<rect x="2137.70" y="240.02" width="21.40" height="21.40" fill="none" stroke="#000" stroke-width="8"/>
<rect x="2212.20" y="221.27" width="8.00" height="0.52" rx="0" fill="#000" />
<rect x="2212.20" y="251.19" width="8.00" height="0.52" rx="0" fill="#000" />
<rect x="2202.40" y="217.57" width="27.60" height="7.40" rx="2.2" fill="#000" />
<rect x="2202.40" y="248.01" width="27.60" height="7.40" rx="2.2" fill="#000" />
<rect x="2205.50" y="225.79" width="21.40" height="21.40" fill="none" stroke="#000" stroke-width="8"/>
<rect x="1526.50" y="650.70" width="23.40" height="20.60" rx="0" fill="#000" />
<rect x="1594.30" y="650.70" width="23.40" height="20.60" rx="0" fill="#000" />
<rect x="1662.10" y="650.70" width="23.40" height="20.60" rx="0" fill="#000" />
<rect x="1729.90" y="650.70" width="23.40" height="20.60" rx="0" fill="#000" />
<rect x="1797.70" y="650.70" width="23.40" height="20.60" rx="0" fill="#000" />
<rect x="1865.50" y="650.70" width="23.40" height="20.60" rx="0" fill="#000" />
<rect x="1933.30" y="635.15" width="23.40" height="20.60" rx="0" fill="#000" />
<rect x="2008.80" y="552.81" width="8.00" height="82.72" rx="0" fill="#000" />
<rect x="1999.00" y="549.11" width="27.60" height="7.40" rx="2.2" fill="#000" />
<rect x="1999.00" y="631.82" width="27.60" height="7.40" rx="2.2" fill="#000" />
<rect x="2001.10" y="583.86" width="23.40" height="20.60" rx="0" fill="#000" />
<rect x="2076.60" y="321.86" width="8.00" height="122.42" rx="0" fill="#000" />
<rect x="2066.80" y="318.16" width="27.60" height="7.40" rx="2.2" fill="#000" />
<rect x="2066.80" y="440.58" width="27.60" height="7.40" rx="2.2" fill="#000" />
<rect x="2068.90" y="372.77" width="23.40" height="20.60" rx="0" fill="#000" />
<rect x="2144.40" y="282.15" width="8.00" height="39.04" rx="0" fill="#000" />
<rect x="2134.60" y="278.45" width="27.60" height="7.40" rx="2.2" fill="#000" />
<rect x="2134.60" y="317.50" width="27.60" height="7.40" rx="2.2" fill="#000" />
<rect x="2136.70" y="291.38" width="23.40" height="20.60" rx="0" fill="#000" />
<rect x="2204.50" y="255.31" width="23.40" height="20.60" rx="0" fill="#000" />
<line x1="1470.80" y1="162.60" x2="1470.80" y2="694.90" stroke="#000" stroke-width="4.2" stroke-linecap="butt" />
<line x1="1468.70" y1="692.80" x2="2272.70" y2="692.80" stroke="#000" stroke-width="4.2" stroke-linecap="butt" />
<line x1="1470.80" y1="661.00" x2="1455.80" y2="661.00" stroke="#000" stroke-width="4.2" stroke-linecap="butt" />
<text transform="translate(1429.03,674.10) scale(1.1200,1)" font-size="37.00"><tspan font-family="'Liberation Serif','Times New Roman',serif" font-weight="bold">0</tspan></text>
<line x1="1470.80" y1="495.56" x2="1455.80" y2="495.56" stroke="#000" stroke-width="4.2" stroke-linecap="butt" />
<text transform="translate(1408.31,508.67) scale(1.1200,1)" font-size="37.00"><tspan font-family="'Liberation Serif','Times New Roman',serif" font-weight="bold">50</tspan></text>
<line x1="1470.80" y1="330.13" x2="1455.80" y2="330.13" stroke="#000" stroke-width="4.2" stroke-linecap="butt" />
<text transform="translate(1387.59,343.23) scale(1.1200,1)" font-size="37.00"><tspan font-family="'Liberation Serif','Times New Roman',serif" font-weight="bold">100</tspan></text>
<line x1="1470.80" y1="164.69" x2="1455.80" y2="164.69" stroke="#000" stroke-width="4.2" stroke-linecap="butt" />
<text transform="translate(1387.59,177.79) scale(1.1200,1)" font-size="37.00"><tspan font-family="'Liberation Serif','Times New Roman',serif" font-weight="bold">150</tspan></text>
<line x1="1470.80" y1="578.28" x2="1462.30" y2="578.28" stroke="#000" stroke-width="4.2" stroke-linecap="butt" />
<line x1="1470.80" y1="412.85" x2="1462.30" y2="412.85" stroke="#000" stroke-width="4.2" stroke-linecap="butt" />
<line x1="1470.80" y1="247.41" x2="1462.30" y2="247.41" stroke="#000" stroke-width="4.2" stroke-linecap="butt" />
<line x1="1538.20" y1="692.80" x2="1538.20" y2="710.30" stroke="#000" stroke-width="4.2" stroke-linecap="butt" />
<text transform="translate(1520.84,749.60) scale(1.1060,1)" font-size="37.60"><tspan font-family="'Liberation Serif','Times New Roman',serif" font-weight="bold">-9</tspan></text>
<line x1="1673.80" y1="692.80" x2="1673.80" y2="710.30" stroke="#000" stroke-width="4.2" stroke-linecap="butt" />
<text transform="translate(1656.39,749.60) scale(1.1060,1)" font-size="37.60"><tspan font-family="'Liberation Serif','Times New Roman',serif" font-weight="bold">-8</tspan></text>
<line x1="1809.40" y1="692.80" x2="1809.40" y2="710.30" stroke="#000" stroke-width="4.2" stroke-linecap="butt" />
<text transform="translate(1791.83,749.60) scale(1.1060,1)" font-size="37.60"><tspan font-family="'Liberation Serif','Times New Roman',serif" font-weight="bold">-7</tspan></text>
<line x1="1945.00" y1="692.80" x2="1945.00" y2="710.30" stroke="#000" stroke-width="4.2" stroke-linecap="butt" />
<text transform="translate(1927.53,749.60) scale(1.1060,1)" font-size="37.60"><tspan font-family="'Liberation Serif','Times New Roman',serif" font-weight="bold">-6</tspan></text>
<line x1="2080.60" y1="692.80" x2="2080.60" y2="710.30" stroke="#000" stroke-width="4.2" stroke-linecap="butt" />
<text transform="translate(2063.29,749.60) scale(1.1060,1)" font-size="37.60"><tspan font-family="'Liberation Serif','Times New Roman',serif" font-weight="bold">-5</tspan></text>
<line x1="2216.20" y1="692.80" x2="2216.20" y2="710.30" stroke="#000" stroke-width="4.2" stroke-linecap="butt" />
<text transform="translate(2198.47,749.60) scale(1.1060,1)" font-size="37.60"><tspan font-family="'Liberation Serif','Times New Roman',serif" font-weight="bold">-4</tspan></text>
<text transform="translate(1627.21,808.14) scale(1.0899,1)" font-size="41.64" ><tspan font-family="'Liberation Serif','Times New Roman',serif" font-weight="bold">Phenylephrine (Log [M])</tspan></text>
<text transform="translate(1367.45,631.84) rotate(-90) scale(1.0304,1)" font-size="43.53"><tspan font-family="'Liberation Serif','Times New Roman',serif" font-weight="bold">Contraction (%KCl)</tspan></text>
<text transform="translate(1427.66,62.77) scale(1.0468,1)" font-size="60.39" ><tspan font-family="'Liberation Serif','Times New Roman',serif" font-weight="bold">(B)</tspan></text>
<line x1="1507.10" y1="192.60" x2="1564.50" y2="192.60" stroke="#000" stroke-width="4.5" stroke-linecap="butt" />
<rect x="1524.30" y="181.60" width="21.40" height="21.40" fill="none" stroke="#000" stroke-width="8"/>
<text transform="translate(1592.08,207.75) scale(1.0656,1)" font-size="35.09" ><tspan font-family="'Liberation Serif','Times New Roman',serif" font-weight="normal">HC</tspan></text>
<line x1="1507.10" y1="253.40" x2="1564.50" y2="253.40" stroke="#000" stroke-width="4.5" stroke-linecap="butt" />
<rect x="1523.30" y="243.10" width="23.40" height="20.60" rx="0" fill="#000" />
<text transform="translate(1592.11,265.66) scale(1.0699,1)" font-size="34.05" ><tspan font-family="'Liberation Serif','Times New Roman',serif" font-weight="normal">HGP1</tspan></text>
<line x1="1507.10" y1="314.80" x2="1564.50" y2="314.80" stroke="#000" stroke-width="4.5" stroke-linecap="butt" />
<path d="M1535.00,304.50 L1547.05,327.50 L1522.95,327.50 Z" fill="#000"/>
<text transform="translate(1592.08,327.16) scale(1.0909,1)" font-size="34.20" ><tspan font-family="'Liberation Serif','Times New Roman',serif" font-weight="normal">HGP2</tspan></text>
<rect x="225.65" y="1224.20" width="7.70" height="9.10" rx="0" fill="#000" />
<rect x="206.80" y="1222.20" width="51.00" height="8.20" rx="3.7272727272727266" fill="#000" />
<rect x="184.80" y="1235.30" width="89.40" height="362.00" fill="#fff"/>
<path d="M184.80,1597.30 L184.80,1235.30 L274.20,1235.30 L274.20,1597.30" fill="none" stroke="#000" stroke-width="8" stroke-linejoin="round"/>
<rect x="358.40" y="1206.40" width="7.70" height="5.40" rx="0" fill="#000" />
<rect x="337.80" y="1204.40" width="51.00" height="8.20" rx="3.7272727272727266" fill="#000" />
<rect x="318.80" y="1213.80" width="86.90" height="383.50" fill="#a2a1a6"/>
<path d="M318.80,1597.30 L318.80,1213.80 L405.70,1213.80 L405.70,1597.30" fill="none" stroke="#000" stroke-width="8" stroke-linejoin="round"/>
<rect x="491.85" y="1271.90" width="7.70" height="6.10" rx="0" fill="#000" />
<rect x="471.10" y="1269.90" width="51.30" height="8.20" rx="3.7272727272727266" fill="#000" />
<rect x="452.80" y="1280.00" width="85.80" height="317.30" fill="#636363"/>
<path d="M452.80,1597.30 L452.80,1280.00 L538.60,1280.00 L538.60,1597.30" fill="none" stroke="#000" stroke-width="8" stroke-linejoin="round"/>
<rect x="624.80" y="1207.20" width="7.70" height="11.20" rx="0" fill="#000" />
<rect x="605.50" y="1205.20" width="50.60" height="8.20" rx="3.7272727272727266" fill="#000" />
<rect x="584.90" y="1220.40" width="87.50" height="376.90" fill="url(#pHC_C)"/>
<path d="M584.90,1597.30 L584.90,1220.40 L672.40,1220.40 L672.40,1597.30" fill="none" stroke="#000" stroke-width="8" stroke-linejoin="round"/>
<rect x="757.70" y="1216.00" width="7.70" height="20.90" rx="0" fill="#000" />
<rect x="736.00" y="1214.00" width="50.60" height="8.20" rx="3.7272727272727266" fill="#000" />
<rect x="717.50" y="1238.90" width="88.10" height="358.40" fill="url(#pHGP1_C)"/>
<path d="M717.50,1597.30 L717.50,1238.90 L805.60,1238.90 L805.60,1597.30" fill="none" stroke="#000" stroke-width="8" stroke-linejoin="round"/>
<rect x="890.40" y="1323.20" width="7.70" height="14.80" rx="0" fill="#000" />
<rect x="869.20" y="1321.20" width="51.00" height="8.20" rx="3.7272727272727266" fill="#000" />
<rect x="851.40" y="1340.00" width="85.70" height="257.30" fill="url(#pHGP2_C)"/>
<path d="M851.40,1597.30 L851.40,1340.00 L937.10,1340.00 L937.10,1597.30" fill="none" stroke="#000" stroke-width="8" stroke-linejoin="round"/>
<line x1="164.40" y1="1065.70" x2="164.40" y2="1597.30" stroke="#000" stroke-width="4" stroke-linecap="butt" />
<line x1="149.50" y1="1597.30" x2="963.00" y2="1597.30" stroke="#000" stroke-width="4.2" stroke-linecap="butt" />
<line x1="164.40" y1="1597.30" x2="149.50" y2="1597.30" stroke="#000" stroke-width="4" stroke-linecap="butt" />
<text transform="translate(121.13,1611.10) scale(1.2000,1)" font-size="36.70"><tspan font-family="'Liberation Serif','Times New Roman',serif" font-weight="bold">0</tspan></text>
<line x1="164.40" y1="1464.90" x2="149.50" y2="1464.90" stroke="#000" stroke-width="4" stroke-linecap="butt" />
<text transform="translate(99.11,1478.70) scale(1.2000,1)" font-size="36.70"><tspan font-family="'Liberation Serif','Times New Roman',serif" font-weight="bold">50</tspan></text>
<line x1="164.40" y1="1332.50" x2="149.50" y2="1332.50" stroke="#000" stroke-width="4" stroke-linecap="butt" />
<text transform="translate(77.09,1346.30) scale(1.2000,1)" font-size="36.70"><tspan font-family="'Liberation Serif','Times New Roman',serif" font-weight="bold">100</tspan></text>
<line x1="164.40" y1="1200.10" x2="149.50" y2="1200.10" stroke="#000" stroke-width="4" stroke-linecap="butt" />
<text transform="translate(77.09,1213.90) scale(1.2000,1)" font-size="36.70"><tspan font-family="'Liberation Serif','Times New Roman',serif" font-weight="bold">150</tspan></text>
<line x1="164.40" y1="1067.70" x2="149.50" y2="1067.70" stroke="#000" stroke-width="4" stroke-linecap="butt" />
<text transform="translate(77.09,1081.50) scale(1.2000,1)" font-size="36.70"><tspan font-family="'Liberation Serif','Times New Roman',serif" font-weight="bold">200</tspan></text>
<line x1="563.00" y1="1597.30" x2="563.00" y2="1616.70" stroke="#000" stroke-width="4" stroke-linecap="butt" />
<rect x="1017.20" y="1260.10" width="58.00" height="20.70" rx="4" fill="#fff" stroke="#000" stroke-width="8"/>
<text transform="translate(1105.71,1283.25) scale(1.0438,1)" font-size="34.94" ><tspan font-family="'Liberation Serif','Times New Roman',serif" font-weight="normal">NC</tspan></text>
<rect x="1017.20" y="1320.90" width="58.00" height="21.30" rx="4" fill="#a2a1a6" stroke="#000" stroke-width="8"/>
<text transform="translate(1105.71,1344.14) scale(1.0097,1)" font-size="35.84" ><tspan font-family="'Liberation Serif','Times New Roman',serif" font-weight="normal">NGP1</tspan></text>
<rect x="1017.20" y="1380.60" width="58.00" height="23.00" rx="4" fill="#656565" stroke="#000" stroke-width="8"/>
<text transform="translate(1105.70,1405.54) scale(1.0272,1)" font-size="35.84" ><tspan font-family="'Liberation Serif','Times New Roman',serif" font-weight="normal">NGP2</tspan></text>
<rect x="1017.20" y="1441.80" width="58.00" height="21.30" rx="4" fill="url(#pHC_C)" stroke="#000" stroke-width="8"/>
<text transform="translate(1105.74,1467.25) scale(1.0065,1)" font-size="34.94" ><tspan font-family="'Liberation Serif','Times New Roman',serif" font-weight="normal">HC</tspan></text>
<rect x="1017.20" y="1502.60" width="58.00" height="21.30" rx="4" fill="url(#pHGP1_C)" stroke="#000" stroke-width="8"/>
<text transform="translate(1105.74,1525.87) scale(1.0576,1)" font-size="33.31" ><tspan font-family="'Liberation Serif','Times New Roman',serif" font-weight="normal">HGP1</tspan></text>
<rect x="1017.20" y="1564.60" width="58.00" height="20.70" rx="4" fill="url(#pHGP2_C)" stroke="#000" stroke-width="8"/>
<text transform="translate(1105.72,1587.85) scale(1.0274,1)" font-size="34.94" ><tspan font-family="'Liberation Serif','Times New Roman',serif" font-weight="normal">HGP2</tspan></text>
<text transform="translate(119.35,967.07) scale(1.0497,1)" font-size="60.39" ><tspan font-family="'Liberation Serif','Times New Roman',serif" font-weight="bold">(C)</tspan></text>
<rect x="1531.10" y="1278.60" width="6.50" height="7.10" rx="0" fill="#000" />
<rect x="1512.30" y="1276.60" width="44.40" height="7.00" rx="3.1818181818181817" fill="#000" />
<rect x="1493.10" y="1286.70" width="82.50" height="309.30" fill="#fff"/>
<path d="M1493.10,1596.00 L1493.10,1286.70 L1575.60,1286.70 L1575.60,1596.00" fill="none" stroke="#000" stroke-width="6" stroke-linejoin="round"/>
<rect x="1657.00" y="1300.10" width="6.50" height="6.90" rx="0" fill="#000" />
<rect x="1637.00" y="1298.10" width="46.60" height="7.00" rx="3.1818181818181817" fill="#000" />
<rect x="1618.50" y="1308.00" width="83.50" height="288.00" fill="#d4d4d4"/>
<path d="M1618.50,1596.00 L1618.50,1308.00 L1702.00,1308.00 L1702.00,1596.00" fill="none" stroke="#000" stroke-width="6" stroke-linejoin="round"/>
<rect x="1783.20" y="1213.50" width="6.50" height="4.50" rx="0" fill="#000" />
<rect x="1764.00" y="1211.50" width="47.50" height="7.00" rx="3.1818181818181817" fill="#000" />
<rect x="1745.90" y="1219.00" width="81.10" height="377.00" fill="#828282"/>
<path d="M1745.90,1596.00 L1745.90,1219.00 L1827.00,1219.00 L1827.00,1596.00" fill="none" stroke="#000" stroke-width="6" stroke-linejoin="round"/>
<rect x="1909.30" y="1262.60" width="6.50" height="4.00" rx="0" fill="#000" />
<rect x="1888.90" y="1260.60" width="47.30" height="7.00" rx="3.1818181818181817" fill="#000" />
<rect x="1870.50" y="1267.60" width="84.10" height="328.40" fill="url(#pHC_D)"/>
<path d="M1870.50,1596.00 L1870.50,1267.60 L1954.60,1267.60 L1954.60,1596.00" fill="none" stroke="#000" stroke-width="6" stroke-linejoin="round"/>
<rect x="2035.25" y="1272.60" width="6.50" height="6.20" rx="0" fill="#000" />
<rect x="2016.50" y="1270.60" width="45.90" height="7.00" rx="3.1818181818181817" fill="#000" />
<rect x="1997.20" y="1279.80" width="82.60" height="316.20" fill="url(#pHGP1_D)"/>
<path d="M1997.20,1596.00 L1997.20,1279.80 L2079.80,1279.80 L2079.80,1596.00" fill="none" stroke="#000" stroke-width="6" stroke-linejoin="round"/>
<rect x="2161.30" y="1281.80" width="6.50" height="12.20" rx="0" fill="#000" />
<rect x="2140.90" y="1279.80" width="47.30" height="7.00" rx="3.1818181818181817" fill="#000" />
<rect x="2122.50" y="1295.00" width="84.10" height="301.00" fill="url(#pHGP2_D)"/>
<path d="M2122.50,1596.00 L2122.50,1295.00 L2206.60,1295.00 L2206.60,1596.00" fill="none" stroke="#000" stroke-width="6" stroke-linejoin="round"/>
<line x1="1470.60" y1="1090.50" x2="1470.60" y2="1596.00" stroke="#000" stroke-width="4" stroke-linecap="butt" />
<line x1="1456.90" y1="1596.00" x2="2228.50" y2="1596.00" stroke="#000" stroke-width="4.2" stroke-linecap="butt" />
<line x1="1470.60" y1="1595.90" x2="1456.90" y2="1595.90" stroke="#000" stroke-width="4" stroke-linecap="butt" />
<text transform="translate(1433.36,1606.90) scale(1.0000,1)" font-size="37.50"><tspan font-family="'Liberation Serif','Times New Roman',serif" font-weight="bold">0</tspan></text>
<line x1="1470.60" y1="1470.10" x2="1456.90" y2="1470.10" stroke="#000" stroke-width="4" stroke-linecap="butt" />
<text transform="translate(1433.54,1481.10) scale(1.0000,1)" font-size="37.50"><tspan font-family="'Liberation Serif','Times New Roman',serif" font-weight="bold">2</tspan></text>
<line x1="1470.60" y1="1344.30" x2="1456.90" y2="1344.30" stroke="#000" stroke-width="4" stroke-linecap="butt" />
<text transform="translate(1432.61,1355.30) scale(1.0000,1)" font-size="37.50"><tspan font-family="'Liberation Serif','Times New Roman',serif" font-weight="bold">4</tspan></text>
<line x1="1470.60" y1="1218.50" x2="1456.90" y2="1218.50" stroke="#000" stroke-width="4" stroke-linecap="butt" />
<text transform="translate(1433.08,1229.50) scale(1.0000,1)" font-size="37.50"><tspan font-family="'Liberation Serif','Times New Roman',serif" font-weight="bold">6</tspan></text>
<line x1="1470.60" y1="1092.70" x2="1456.90" y2="1092.70" stroke="#000" stroke-width="4" stroke-linecap="butt" />
<text transform="translate(1433.17,1103.70) scale(1.0000,1)" font-size="37.50"><tspan font-family="'Liberation Serif','Times New Roman',serif" font-weight="bold">8</tspan></text>
<line x1="1847.70" y1="1596.00" x2="1847.70" y2="1613.00" stroke="#000" stroke-width="4" stroke-linecap="butt" />
<rect x="2282.40" y="1271.30" width="53.10" height="21.10" rx="3" fill="#fff" stroke="#000" stroke-width="6.2"/>
<text transform="translate(2365.45,1293.06) scale(1.0217,1)" font-size="34.35" ><tspan font-family="'Liberation Serif','Times New Roman',serif" font-weight="normal">NC</tspan></text>
<rect x="2282.40" y="1330.70" width="53.10" height="19.00" rx="3" fill="#d5d5d5" stroke="#000" stroke-width="6.2"/>
<text transform="translate(2365.46,1350.93) scale(0.9418,1)" font-size="36.88" ><tspan font-family="'Liberation Serif','Times New Roman',serif" font-weight="normal">NGP1</tspan></text>
<rect x="2282.40" y="1387.50" width="53.10" height="19.10" rx="3" fill="#878787" stroke="#000" stroke-width="6.2"/>
<text transform="translate(2365.43,1409.35) scale(1.0081,1)" font-size="35.24" ><tspan font-family="'Liberation Serif','Times New Roman',serif" font-weight="normal">NGP2</tspan></text>
<rect x="2282.40" y="1445.40" width="53.10" height="20.60" rx="3" fill="url(#pHC_D)" stroke="#000" stroke-width="6.2"/>
<text transform="translate(2366.11,1467.06) scale(0.9676,1)" font-size="34.05" ><tspan font-family="'Liberation Serif','Times New Roman',serif" font-weight="normal">HC</tspan></text>
<rect x="2282.40" y="1504.00" width="53.10" height="18.90" rx="3" fill="url(#pHGP1_D)" stroke="#000" stroke-width="6.2"/>
<text transform="translate(2366.13,1523.46) scale(0.9517,1)" font-size="34.05" ><tspan font-family="'Liberation Serif','Times New Roman',serif" font-weight="normal">HGP1</tspan></text>
<rect x="2282.40" y="1561.50" width="53.10" height="21.10" rx="3" fill="url(#pHGP2_D)" stroke="#000" stroke-width="6.2"/>
<text transform="translate(2366.10,1583.16) scale(0.9777,1)" font-size="34.05" ><tspan font-family="'Liberation Serif','Times New Roman',serif" font-weight="normal">HGP2</tspan></text>
<text transform="translate(1430.06,971.17) scale(1.0446,1)" font-size="60.39" ><tspan font-family="'Liberation Serif','Times New Roman',serif" font-weight="bold">(D)</tspan></text>
<text transform="translate(479.69,997.40) scale(1.0089,1)" font-size="51.76" ><tspan font-family="'Liberation Serif','Times New Roman',serif" font-weight="bold">E</tspan></text>
<text transform="translate(513.67,1007.34) scale(1.0464,1)" font-size="35.63" ><tspan font-family="'Liberation Serif','Times New Roman',serif" font-weight="bold">max</tspan></text>
<text transform="translate(1826.91,1025.08) scale(0.9556,1)" font-size="49.03" ><tspan font-family="'Liberation Serif','Times New Roman',serif" font-weight="bold">pD2</tspan></text>
<text transform="translate(51.84,1536.95) rotate(-90) scale(1.0538,1)" font-size="42.64"><tspan font-family="'Liberation Serif','Times New Roman',serif" font-weight="bold">Contraction (%KCl)</tspan></text>
<text transform="translate(1392.58,1451.77) rotate(-90) scale(1.1076,1)" font-size="40.11"><tspan font-family="'Liberation Serif','Times New Roman',serif" font-weight="normal">-(-</tspan><tspan font-family="'Liberation Serif','Times New Roman',serif" font-weight="bold">Log </tspan><tspan font-family="'Liberation Serif','Times New Roman',serif" font-weight="normal">[M])</tspan></text>
<text transform="translate(475.65,1221.58) scale(1.0709,1)" font-size="54.59" stroke="#000" stroke-width="1.1"><tspan font-family="'Liberation Sans',Arial,sans-serif" font-weight="normal">‡</tspan></text>
<text transform="translate(486.06,1273.97) scale(1.0376,1)" font-size="50.86" ><tspan font-family="'Liberation Serif','Times New Roman',serif" font-weight="bold">*</tspan></text>
<text transform="translate(878.57,1238.83) scale(1.0287,1)" font-size="55.22" stroke="#000" stroke-width="1.1"><tspan font-family="'Liberation Sans',Arial,sans-serif" font-weight="normal">‡</tspan></text>
<text transform="translate(878.57,1297.65) scale(1.0518,1)" font-size="54.01" stroke="#000" stroke-width="1.1"><tspan font-family="'Liberation Sans',Arial,sans-serif" font-weight="normal">†</tspan></text>
<text transform="translate(1775.50,1200.59) scale(1.0285,1)" font-size="52.72" ><tspan font-family="'Liberation Serif','Times New Roman',serif" font-weight="bold">*</tspan></text>
</svg></body></html>
